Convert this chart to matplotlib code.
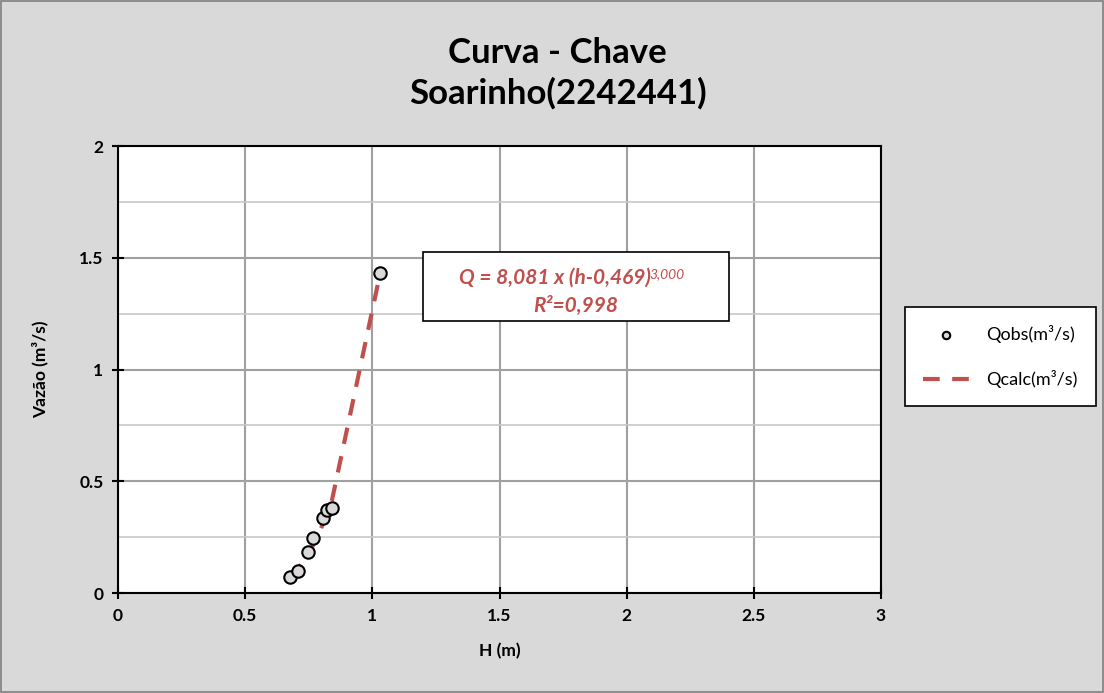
import matplotlib.pyplot as plt
import numpy as np

plt.rcParams['font.family'] = ['Lato', 'DejaVu Sans']

# observed stage (m) and discharge (m3/s)
h_obs = [0.676, 0.708, 0.747, 0.767, 0.806, 0.822, 0.842, 1.030]
q_obs = [0.072, 0.098, 0.184, 0.246, 0.336, 0.371, 0.380, 1.432]

# fitted rating curve Q = a (h - h0)^n
a, h0, n = 8.081, 0.469, 3.000
q_calc = [a * (h - h0) ** n for h in h_obs]

red = '#c0504d'

fig = plt.figure(figsize=(11.04, 6.93), dpi=100, facecolor='#d9d9d9')
fig.patches.append(plt.Rectangle((0.001, 0.001), 0.998, 0.997, transform=fig.transFigure,
                                 fill=False, edgecolor='#7f7f7f', linewidth=1.2))
ax = fig.add_axes([0.1069, 0.1443, 0.6911, 0.645])
ax.set_facecolor('white')

ax.plot(h_obs, q_calc, color=red, linestyle=(0, (4, 3)), linewidth=3, label='Qcalc(m³/s)', zorder=3)
ax.scatter(h_obs, q_obs, s=80, facecolor='#d9d9d9', edgecolor='black', linewidth=1.5,
           label='Qobs(m³/s)', zorder=4)

ax.set_xlim(0, 3)
ax.set_ylim(0, 2)
ax.set_xticks(np.arange(0, 3.01, 0.5))
ax.set_xticklabels(['0', '0.5', '1', '1.5', '2', '2.5', '3'])
ax.set_yticks(np.arange(0, 2.01, 0.5))
ax.set_yticklabels(['0', '0.5', '1', '1.5', '2'])
ax.set_yticks(np.arange(0.25, 2, 0.5), minor=True)
ax.grid(True, which='major', color='#a0a0a0', linewidth=1.5)
ax.grid(True, which='minor', axis='y', color='#c8c8c8', linewidth=1.2)
ax.tick_params(which='major', direction='inout', length=9, width=1.5, labelsize=12.5, pad=6)
ax.tick_params(which='minor', length=0)
for lab in ax.get_xticklabels() + ax.get_yticklabels():
    lab.set_fontweight('bold')
for sp in ax.spines.values():
    sp.set_color('black')
    sp.set_linewidth(1.5)

ax.set_xlabel('H (m)', fontsize=12.5, fontweight='bold', labelpad=14)
ax.set_ylabel('Vazão (m³/s)', fontsize=12.5, fontweight='bold', labelpad=22)

fig.text(0.505, 0.894, 'Curva - Chave\nSoarinho(2242441)', ha='center', va='center',
         fontsize=25, fontweight='bold', linespacing=1.3)

# equation box
ax.add_patch(plt.Rectangle((0.3997, 0.6085), 0.4011, 0.1545, transform=ax.transAxes,
                           facecolor='white', edgecolor='black', linewidth=1.2, zorder=5))
eq = ax.text(0.572, 0.705, 'Q = 8,081 x (h-0,469)', transform=ax.transAxes,
             ha='center', va='center', color=red, fontsize=15, fontweight='bold',
             style='italic', zorder=6)
ax.annotate('3,000', xy=(1, 1), xycoords=eq, xytext=(-1, 0), textcoords='offset points',
            ha='left', va='top', color=red, fontsize=10, style='italic', zorder=6)
ax.text(0.600, 0.643, 'R²=0,998', transform=ax.transAxes,
        ha='center', va='center', color=red, fontsize=15, fontweight='bold',
        style='italic', zorder=6)

handles, labels = ax.get_legend_handles_labels()
leg = fig.legend(handles[::-1], labels[::-1], loc='center', bbox_to_anchor=(0.906, 0.4856),
                 fontsize=13, frameon=True, fancybox=False, edgecolor='black', framealpha=1,
                 facecolor='white', borderpad=1.0, labelspacing=1.5, handlelength=2.6,
                 handletextpad=0.9, markerscale=0.6)
leg.get_frame().set_linewidth(1.2)

fig.savefig('out.png', dpi=100, facecolor=fig.get_facecolor())
